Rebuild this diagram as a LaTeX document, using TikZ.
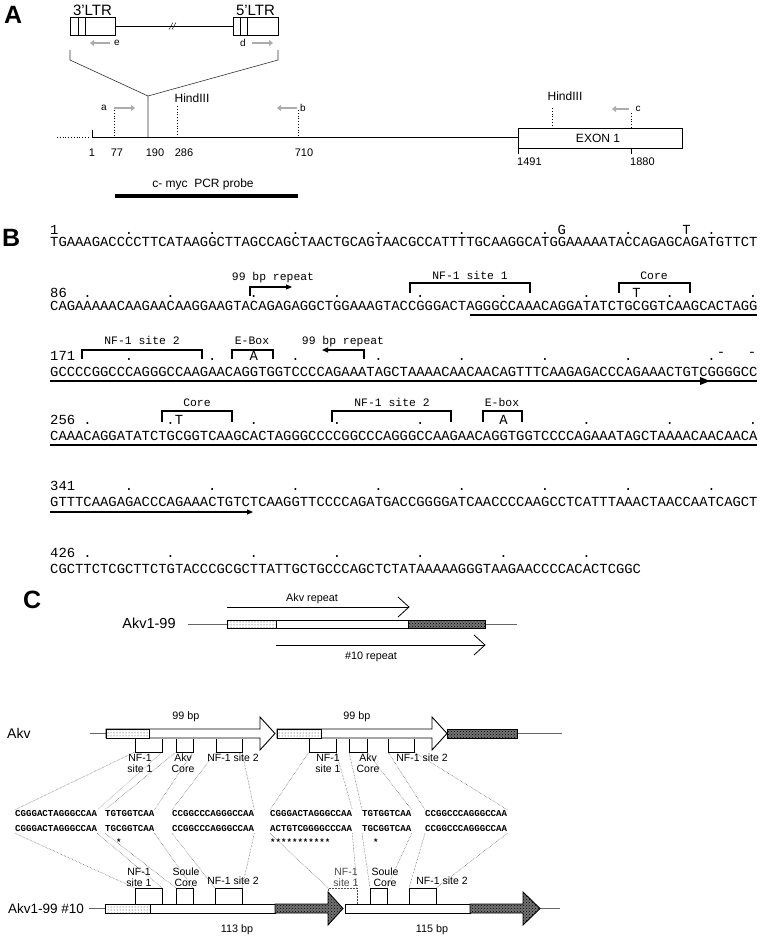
\documentclass[tikz,border=0pt]{standalone}
\usepackage{fontspec}
\setmainfont{Liberation Sans}
\newfontfamily\seqfont{Liberation Mono}
\usetikzlibrary{arrows.meta,patterns}
\tikzset{
  panel/.style={font=\bfseries\fontsize{25}{25}\selectfont, anchor=west, inner sep=0pt},
  sq/.style={font=\seqfont\fontsize{13.87}{15}\selectfont, inner sep=0pt, anchor=base west},
  sqc/.style={font=\seqfont\fontsize{13.87}{15}\selectfont, inner sep=0pt, anchor=base},
  mlbl/.style={font=\seqfont\fontsize{11.4}{13}\selectfont, inner sep=0pt, anchor=base},
  brk/.style={line width=1.1pt},
  uline/.style={line width=1.1pt},
  ltr/.style={font=\fontsize{15}{15}\selectfont, inner sep=0pt, anchor=base},
  plab/.style={font=\fontsize{10}{10}\selectfont, inner sep=0pt},
  lab/.style={font=\fontsize{12}{12}\selectfont, inner sep=0pt, anchor=base},
  num/.style={font=\fontsize{11}{11}\selectfont, inner sep=0pt, anchor=base},
  primer/.style={line width=2.6pt, gray!65, -{Triangle[length=4pt,width=6pt]}},
  thinl/.style={line width=0.6pt, black!80},
  mainl/.style={line width=0.9pt},
  dotln/.style={line width=0.8pt, dotted},
  boxl/.style={line width=0.9pt},
  stip/.style={fill=white, postaction={pattern=dots, pattern color=black!80}},
  darkf/.style={fill=black!55, postaction={pattern=crosshatch dots, pattern color=black}},
  clab/.style={font=\fontsize{10.5}{11}\selectfont, inner sep=0pt, align=center},
  bp/.style={font=\fontsize{10.8}{11}\selectfont, inner sep=0pt, anchor=base},
  cseq/.style={font=\seqfont\bfseries\fontsize{9.1}{10}\selectfont, inner sep=0pt, anchor=base west},
  conn/.style={line width=0.5pt, densely dotted, black!70},
  gl/.style={line width=0.7pt, black!60},
  chev/.style={line width=0.8pt},
  seqtip/.style={-{Triangle[length=6pt,width=5pt]}},
}
\begin{document}
\begin{tikzpicture}[x=1pt,y=-1pt]
\useasboundingbox (0,0) rectangle (762,940);

% ================= Panel A =================
\node[panel] (labA) at (4,15) {A};
\draw[boxl] (70,17) rectangle (115,35);
\draw (78,17)--(78,35) (85,17)--(85,35);
\node[ltr] (l3) at (92.5,15) {3'LTR};
\draw[boxl] (233,17) rectangle (278,35);
\draw (240,17)--(240,35) (247,17)--(247,35);
\node[ltr] (l5) at (255.5,15) {5'LTR};
\draw (115,26) -- (233,26);
\draw (169,29.5)--(173,22.5) (172,29.5)--(176,22.5);
\draw[primer] (110,43) -- (90,43);
\node[plab] (pe) at (117,43) {e};
\draw[primer] (252,43) -- (273,43);
\node[plab] (pd) at (243,43) {d};
\draw[thinl] (70,50)--(70,60)--(148,96)--(148,137);
\draw[thinl] (278,50)--(278,60)--(148,96);

\draw[mainl] (92,137)--(518,137);
\draw[mainl] (92,130)--(92,137);
\draw[dotln] (57,137)--(88,137);
\draw[dotln] (114,110)--(114,137);
\draw[dotln] (177,106)--(177,137);
\draw[dotln] (298,110)--(298,137);
\draw[primer] (114,108) -- (135,108);
\node[plab] (pa) at (104,108) {a};
\draw[primer] (297,108) -- (277,108);
\node[plab] (pb) at (303,108) {b};
\node[lab] (h1) at (192,102) {HindIII};

\draw[mainl] (518,128) rectangle (682,148);
\node[lab] (ex) at (598,142) {EXON 1};
\draw (518,148)--(518,154) (631,148)--(631,154);
\node[num, anchor=base west] (n1491) at (517,165) {1491};
\node[num, anchor=base west] (n1880) at (630,165) {1880};
\draw[dotln] (552,108)--(552,128);
\node[lab] (h2) at (565,100) {HindIII};
\draw[dotln] (631,113)--(631,128);
\draw[primer] (629,109) -- (612,109);
\node[plab] (pc) at (638,109) {c};

\node[num] (a1) at (92,156) {1};
\node[num] (a77) at (117,156) {77};
\node[num] (a190) at (155,156) {190};
\node[num] (a286) at (184,156) {286};
\node[num] (a710) at (304,156) {710};
\node[lab] (probe) at (203,187) {c- myc\ \ PCR probe};
\draw[line width=4pt] (115,196)--(298,196);

% ================= Panel B =================
\node[panel] (labB) at (2,238) {B};
% row 1
\node[sq] (n1) at (50,234) {1};
\foreach \i in {9,19,29,39,49,59,69,79} \node[sqc] at ({50+8.32*(\i+0.5)},234) {.};
\node[sqc] (g1) at ({50+8.32*61.5},234) {G};
\node[sqc] (t1) at ({50+8.32*76.5},234) {T};
\node[sq] (s1) at (50,246) {TGAAAGACCCCTTCATAAGGCTTAGCCAGCTAACTGCAGTAACGCCATTTTGCAAGGCATGGAAAAATACCAGAGCAGATGTTCT};
% row 2
\node[sq] (n86) at (50,297) {86};
\foreach \i in {4,14,24,34,44,54,64,74,84} \node[sqc] at ({50+8.32*(\i+0.5)},297) {.};
\node[sqc] (t2) at ({50+8.32*70.5},297) {T};
\node[sq] (s2) at (50,310) {CAGAAAAACAAGAACAAGGAAGTACAGAGAGGCTGGAAAGTACCGGGACTAGGGCCAAACAGGATATCTGCGGTCAAGCACTAGG};
\draw[uline] (470,315) -- (757,315);
\draw[brk, seqtip] (250,296) -- (250,287) -- (292,287);
\node[mlbl] (r1) at (273,280) {99 bp repeat};
\draw[brk] (410,293)--(410,283)--(530,283)--(530,293);
\node[mlbl] (nf11) at (470,279) {NF-1 site 1};
\draw[brk] (619,293)--(619,283)--(690,283)--(690,293);
\node[mlbl] (core1) at (654,279) {Core};
% row 3
\node[sq] (n171) at (50,360) {171};
\foreach \i in {9,19,29,39,49,59,69,79} \node[sqc] at ({50+8.32*(\i+0.5)},360) {.};
\node[sqc] (a3) at ({50+8.32*24.5},360) {A};
\node[sqc] (m1) at (721,356) {-};
\node[sqc] (m2) at (752,356) {-};
\draw[brk] (82,359)--(82,350)--(202,350)--(202,359);
\node[mlbl] (nf21) at (142,344) {NF-1 site 2};
\draw[brk] (232,359)--(232,350)--(273,350)--(273,359);
\node[mlbl] (eb1) at (252,344) {E-Box};
\draw[brk, seqtip] (364,359)--(364,350)--(322,350);
\node[mlbl] (r2) at (343,344) {99 bp repeat};
\node[sq] (s3) at (50,376) {GCCCCGGCCCAGGGCCAAGAACAGGTGGTCCCCAGAAATAGCTAAAACAACAACAGTTTCAAGAGACCCAGAAACTGTCGGGGCC};
\draw[uline] (50,381) -- (757,381);
\fill (700,377)--(710,381)--(700,385)--cycle;
% row 4
\node[sq] (n256) at (50,424.5) {256};
\foreach \i in {4,14,24,34,44,64,74,84} \node[sqc] at ({50+8.32*(\i+0.5)},424.5) {.};
\node[sqc] (t4) at ({50+8.32*15.5},424.5) {T};
\node[sqc] (a4) at ({50+8.32*54.5},424.5) {A};
\draw[brk] (162,422)--(162,411)--(232,411)--(232,422);
\node[mlbl] (core2) at (197,406) {Core};
\draw[brk] (332,422)--(332,411)--(451,411)--(451,422);
\node[mlbl] (nf22) at (392,406) {NF-1 site 2};
\draw[brk] (483,422)--(483,411)--(522,411)--(522,422);
\node[mlbl] (eb2) at (502,406) {E-box};
\node[sq] (s4) at (50,440) {CAAACAGGATATCTGCGGTCAAGCACTAGGGCCCCGGCCCAGGGCCAAGAACAGGTGGTCCCCAGAAATAGCTAAAACAACAACA};
\draw[uline] (50,445) -- (757,445);
% row 5
\node[sq] (n341) at (50,490.5) {341};
\foreach \i in {9,19,29,39,49,59,69,79} \node[sqc] at ({50+8.32*(\i+0.5)},490.5) {.};
\node[sq] (s5) at (50,506.5) {GTTTCAAGAGACCCAGAAACTGTCTCAAGGTTCCCCAGATGACCGGGGATCAACCCCAAGCCTCATTTAAACTAACCAATCAGCT};
\draw[uline, seqtip] (50,512) -- (253,512);
% row 6
\node[sq] (n426) at (50,557.5) {426};
\foreach \i in {4,14,24,34,44,54,64} \node[sqc] at ({50+8.32*(\i+0.5)},557.5) {.};
\node[sq] (s6) at (50,573.5) {CGCTTCTCGCTTCTGTACCCGCGCTTATTGCTGCCCAGCTCTATAAAAAGGGTAAGAACCCCACACTCGGC};

% ================= Panel C =================
\node[panel] (labC) at (23,600) {C};
\node[font=\fontsize{14.5}{15}\selectfont, inner sep=0pt] (akv199) at (149,623) {Akv1-99};
\draw[gl] (188,624.5)--(227,624.5);
\draw[gl] (485,624.5)--(517,624.5);
\draw[boxl, stip] (227,620.5) rectangle (276,628.5);
\draw[boxl, fill=white] (276,620.5) rectangle (408,628.5);
\draw[boxl, darkf] (408,620.5) rectangle (485,628.5);
\draw[chev] (227,607) -- (409,607);
\draw[chev] (398,597) -- (409,607) -- (398,617);
\node[bp] (akvrep) at (312,601) {Akv repeat};
\draw[chev] (276,645) -- (485,645);
\draw[chev] (474,635) -- (485,645) -- (474,655);
\node[bp] (rep10) at (371,659) {\#10 repeat};

% Akv row
\node[font=\fontsize{14}{14}\selectfont, inner sep=0pt, anchor=west] (akv) at (7,733.5) {Akv};
\draw[gl] (90,733.5)--(106,733.5);
\draw[gl] (517,733.5)--(562,733.5);
\draw[boxl, fill=white] (106,729) -- (260,729) -- (260,717) -- (275,733.5) -- (260,750) -- (260,738) -- (106,738) -- cycle;
\draw[boxl, stip] (106,729) rectangle (149,738);
\draw[boxl, fill=white] (277,729) -- (432,729) -- (432,717) -- (447,733.5) -- (432,750) -- (432,738) -- (277,738) -- cycle;
\draw[boxl, stip] (277,729) rectangle (321,738);
\draw[boxl, darkf] (447,729) rectangle (517,738);
\node[bp] (bp99a) at (186,719) {99 bp};
\node[bp] (bp99b) at (357,719) {99 bp};

% sequences
\node[cseq] (ga1) at (15,816) {CGGGACTAGGGCCAA};
\node[cseq] (ga2) at (105,816) {TGTGGTCAA};
\node[cseq] (ga3) at (172,816) {CCGGCCCAGGGCCAA};
\node[cseq] (ga4) at (270,816) {CGGGACTAGGGCCAA};
\node[cseq] (ga5) at (362,816) {TGTGGTCAA};
\node[cseq] (ga6) at (425,816) {CCGGCCCAGGGCCAA};
\node[cseq] (gb1) at (15,831) {CGGGACTAGGGCCAA};
\node[cseq] (gb2) at (105,831) {TGCGGTCAA};
\node[cseq] (gb3) at (172,831) {CCGGCCCAGGGCCAA};
\node[cseq] (gb4) at (270,831) {ACTGTCGGGGCCCAA};
\node[cseq] (gb5) at (362,831) {TGCGGTCAA};
\node[cseq] (gb6) at (425,831) {CCGGCCCAGGGCCAA};
\node[cseq] (st1) at (116,845) {*};
\node[cseq] (st2) at (270,845) {***********};
\node[cseq] (st3) at (373,845) {*};

% top brackets and connectors
\foreach \xl/\xr/\g in {135/162/1,176/193/2,216/242/3,309/336/4,349/367/5,388/414/6} {
  \draw[boxl] (\xl,739) -- (\xl,752) -- (\xr,752) -- (\xr,739);
  \coordinate (tl\g) at (\xl,752);
  \coordinate (tr\g) at (\xr,752);
  \draw[conn] (tl\g) -- (ga\g.north west);
  \draw[conn] (tr\g) -- (ga\g.north east);
}
\node[clab, anchor=north] (tn1) at (140,754) {NF-1\\site 1};
\node[clab, anchor=north] (tc1) at (183,754) {Akv\\Core};
\node[clab, anchor=north] (tn2) at (233,754) {NF-1 site 2};
\node[clab, anchor=north] (tn3) at (328,754) {NF-1\\site 1};
\node[clab, anchor=north] (tc2) at (368,754) {Akv\\Core};
\node[clab, anchor=north] (tn4) at (422,754) {NF-1 site 2};

% bottom brackets and connectors
\foreach \xl/\xr/\g in {135/162/1,176/193/2,215/242/3,370/387/5,409/436/6} {
  \draw[boxl] (\xl,904) -- (\xl,888) -- (\xr,888) -- (\xr,904);
}
\draw[conn, line width=0.7pt] (328,904) -- (328,888) -- (357,888) -- (357,904);
\foreach \xl/\xr/\g in {135/162/1,176/193/2,215/242/3,328/357/4,370/387/5,409/436/6} {
  \coordinate (bl\g) at (\xl,888);
  \coordinate (br\g) at (\xr,888);
  \draw[conn] ([yshift=-2pt]gb\g.south west) -- (bl\g);
  \draw[conn] ([yshift=-2pt]gb\g.south east) -- (br\g);
}
\node[clab, anchor=south] (bn1) at (139,887) {NF-1\\site 1};
\node[clab, anchor=south] (bc1) at (186,887) {Soule\\Core};
\node[clab, anchor=base] (bn2) at (233,884) {NF-1 site 2};
\node[clab, anchor=south, text=black!70] (bn3) at (346,887) {NF-1\\site 1};
\node[clab, anchor=south] (bc2) at (385,887) {Soule\\Core};
\node[clab, anchor=base] (bn4) at (442,884) {NF-1 site 2};

% bottom bar
\node[font=\fontsize{13.5}{14}\selectfont, inner sep=0pt, anchor=west] (akv10) at (8,908.5) {Akv1-99 \#10};
\draw[gl] (89,908.5)--(105,908.5);
\draw[gl] (540,908.5)--(560,908.5);
\draw[boxl, fill=white] (105,904) rectangle (275,913);
\draw[boxl, stip] (105,904) rectangle (150,913);
\draw[boxl, darkf] (275,904) -- (328,904) -- (328,892) -- (343,908.5) -- (328,925) -- (328,913) -- (275,913) -- cycle;
\draw[boxl, fill=white] (345,904) rectangle (470,913);
\draw[boxl, darkf] (470,904) -- (523,904) -- (523,892) -- (540,908.5) -- (523,925) -- (523,913) -- (470,913) -- cycle;
\node[bp] (bp113) at (237,932) {113 bp};
\node[bp] (bp115) at (432,932) {115 bp};
\end{tikzpicture}
\end{document}
